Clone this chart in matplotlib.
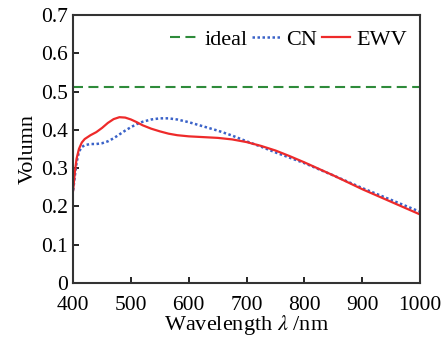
import matplotlib
matplotlib.use("Agg")
import matplotlib.pyplot as plt

plt.rcParams['font.family'] = ['Liberation Serif', 'DejaVu Serif']
plt.rcParams['mathtext.fontset'] = 'stix'

ideal_value = 0.513

ewv_x = [400, 403, 406, 410, 415, 420, 430, 440, 450, 460, 470, 480, 490, 500, 510, 520, 535,
         550, 565, 580, 600, 625, 650, 675, 700, 725, 750, 775, 800, 850, 900, 950, 1000]
ewv_y = [0.242, 0.29, 0.325, 0.35, 0.367, 0.376, 0.386, 0.394, 0.405, 0.418, 0.428, 0.433, 0.432, 0.427,
         0.42, 0.412, 0.403, 0.396, 0.390, 0.386, 0.383, 0.381, 0.379, 0.375, 0.368, 0.358, 0.346, 0.331,
         0.315, 0.281, 0.245, 0.212, 0.179]

cn_x = [400, 403, 406, 410, 415, 420, 430, 440, 450, 460, 470, 480, 490, 500, 510, 520, 535,
        550, 565, 580, 600, 625, 650, 675, 700, 725, 750, 775, 800, 850, 900, 950, 1000]
cn_y = [0.242, 0.28, 0.315, 0.343, 0.355, 0.360, 0.363, 0.363, 0.365, 0.370, 0.378, 0.388, 0.398, 0.407,
        0.415, 0.421, 0.427, 0.430, 0.430, 0.427, 0.420, 0.409, 0.398, 0.385, 0.370, 0.356, 0.341, 0.327,
        0.313, 0.281, 0.248, 0.217, 0.186]

fig = plt.figure(figsize=(4.46, 3.39), dpi=100)
ax = fig.add_axes([0.164, 0.165, 0.778, 0.791])

ax.axhline(ideal_value, color='#2e8b3a', linestyle=(0, (4.8, 2.6)), linewidth=1.5, label='ideal')
ax.plot(cn_x, cn_y, color='#3a62c8', linestyle=(0, (1, 1)), linewidth=1.8, label='CN')
ax.plot(ewv_x, ewv_y, color='#ee2a2a', linestyle='-', linewidth=1.6, label='EWV')

ax.set_xlim(400, 1000)
ax.set_ylim(0, 0.7)
ax.set_xticks([400, 500, 600, 700, 800, 900, 1000])
ax.set_yticks([0, 0.1, 0.2, 0.3, 0.4, 0.5, 0.6, 0.7])
ax.set_yticklabels(['0', '0.1', '0.2', '0.3', '0.4', '0.5', '0.6', '0.7'])
ax.tick_params(direction='in', length=4, width=1.2, labelsize=15.5, top=False, right=False)
ax.tick_params(axis='x', pad=9)
ax.tick_params(axis='y', pad=4)
for s in ax.spines.values():
    s.set_linewidth(1.5)
    s.set_color('#333333')

ax.set_xlabel(r'Wavelength $\lambda$ /nm', fontsize=16, labelpad=-1)
ax.set_ylabel('Volumn', fontsize=16, labelpad=2)

ax.legend(loc='upper right', ncol=3, frameon=False, fontsize=16, handlelength=1.3,
          handletextpad=0.25, columnspacing=0.2, borderaxespad=0.2, bbox_to_anchor=(1.0, 0.995))

fig.savefig('out.png', dpi=100)
